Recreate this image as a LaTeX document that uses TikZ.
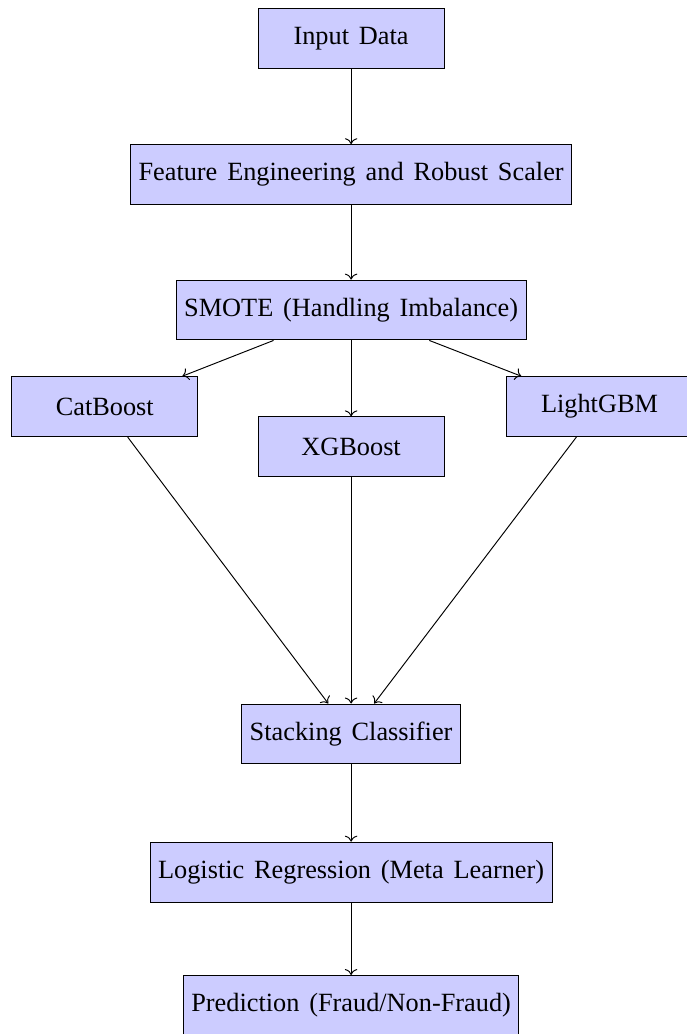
\documentclass[tikz,border=0pt]{standalone}
\usepackage{fontspec}
\setmainfont{Liberation Serif}[WordSpace=1.5]
\usepackage{tikz}
\usetikzlibrary{arrows, arrows.meta, calc}

\begin{document}
\begin{tikzpicture}[
        stagebox/.style={draw, fill=blue!20, minimum width=2.73cm, minimum height=0.88cm,
            font=\fontsize{11}{13}\selectfont}
    ]
        % Fix the frame of the picture
        \useasboundingbox (-5.16,0.566) rectangle (4.93,-14.63);

        % Pipeline stages
        \node[stagebox] (input) at (0,0) {Input Data};
        \node[stagebox] (feature) at (0,-2) {Feature Engineering and Robust Scaler};
        \node[stagebox] (smote) at (0,-3.99) {SMOTE (Handling Imbalance)};

        % Base models
        \node[stagebox] (catboost) at (-3.62,-5.41) {CatBoost};
        \node[stagebox] (xgboost) at (0,-6) {XGBoost};
        \node[stagebox] (lightgbm) at (3.65,-5.41) {LightGBM};

        % Ensemble and output
        \node[stagebox] (stacking) at (0,-10.22) {Stacking Classifier};
        \node[stagebox] (logistic) at (0,-12.25) {Logistic Regression (Meta Learner)};
        \node[stagebox] (prediction) at (0,-14.21) {Prediction (Fraud/Non-Fraud)};

        % Arrows
        \draw[->] (input) -- (feature);
        \draw[->] (feature) -- (smote);
        \draw[->] (smote) -- (catboost);
        \draw[->] (smote) -- (xgboost);
        \draw[->] (smote) -- (lightgbm);
        \draw[->] (catboost) -- (stacking);
        \draw[->] (xgboost) -- (stacking);
        \draw[->] (lightgbm) -- (stacking);
        \draw[->] (stacking) -- (logistic);
        \draw[->] (logistic) -- (prediction);
    \end{tikzpicture}
\end{document}
